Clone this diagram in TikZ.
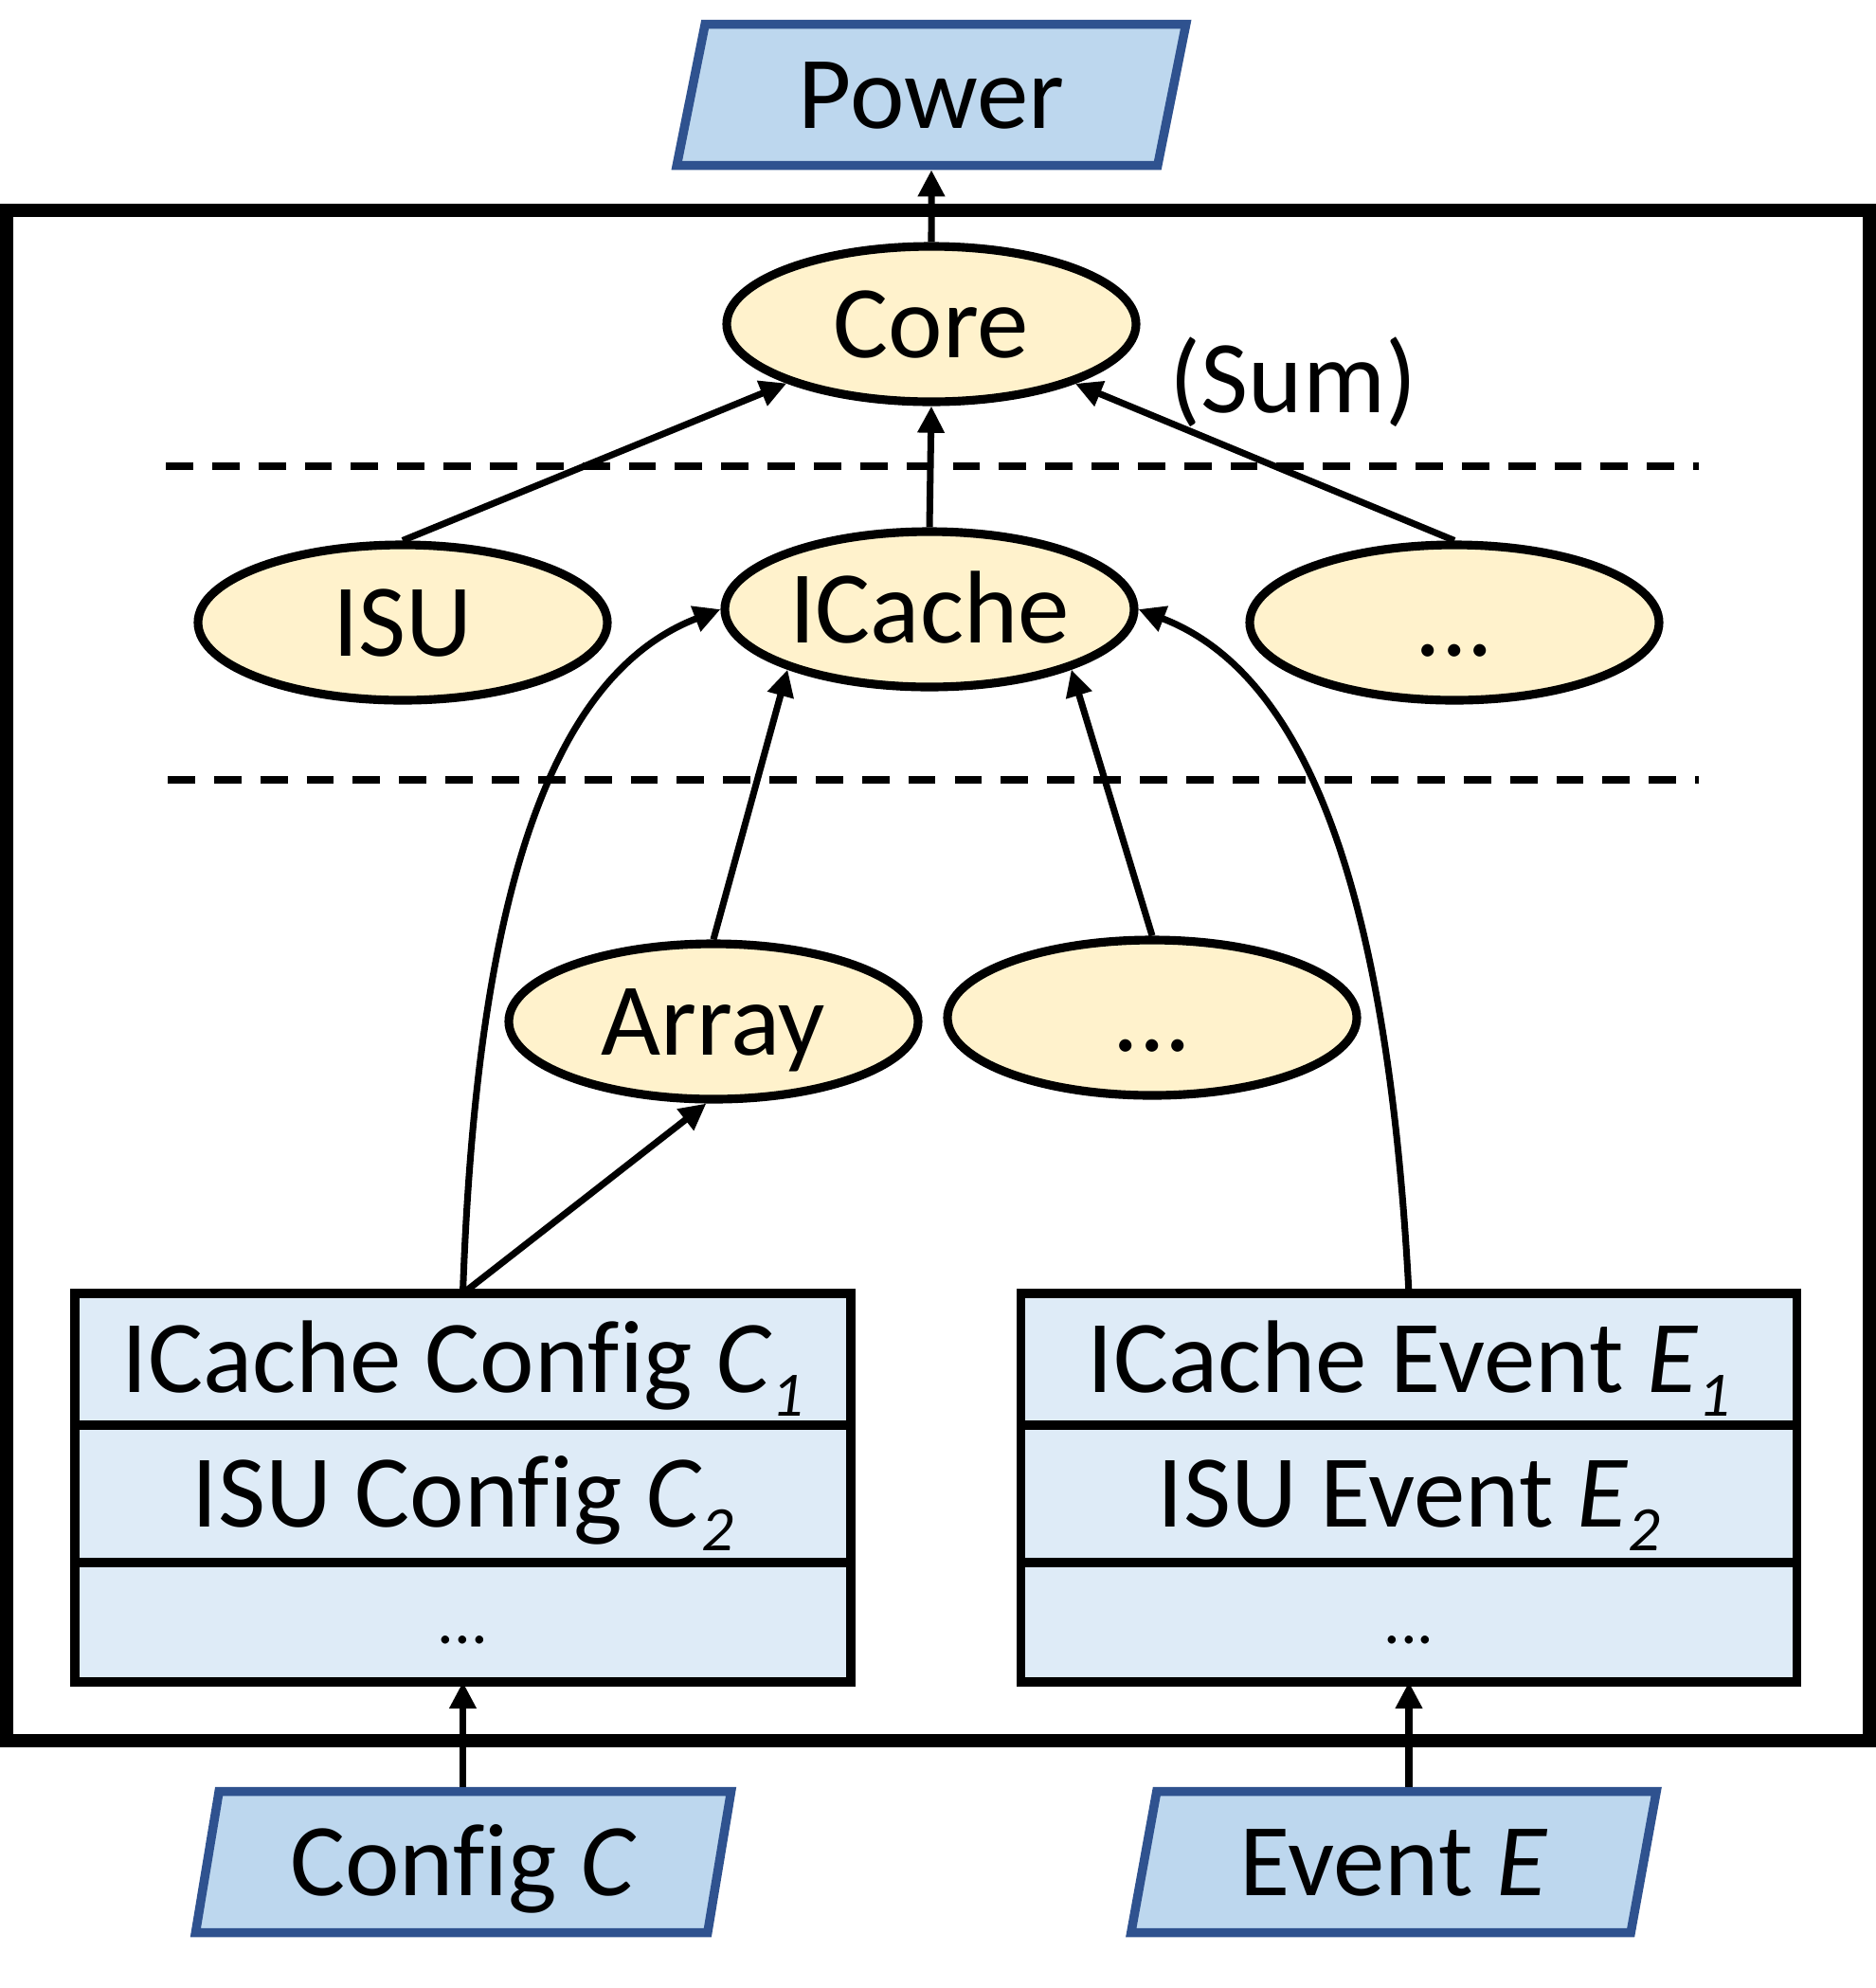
\documentclass[tikz,border=0pt]{standalone}
\usepackage{fontspec}
\setmainfont{Carlito}[Ligatures=NoCommon]
\usepackage{tikz}
\usetikzlibrary{arrows.meta, shapes.geometric, positioning}
\definecolor{pfill}{HTML}{BDD7EE}
\definecolor{pbord}{HTML}{2F528F}
\definecolor{efill}{HTML}{FFF2CC}
\definecolor{tfill}{HTML}{DEEBF7}
\newcommand{\lowsub}[1]{\raisebox{-0.23em}{\fontsize{19pt}{19pt}\selectfont\itshape #1}}

\begin{document}
\begin{tikzpicture}[
  font=\fontsize{31pt}{37pt}\selectfont,
  mod/.style={ellipse, draw, line width=2.6pt, fill=efill, minimum width=4.32cm, minimum height=1.64cm, inner sep=0pt, text height=20pt, text depth=0pt},
  inout/.style={trapezium, trapezium left angle=76, trapezium right angle=104, trapezium stretches=true, draw=pbord, fill=pfill, line width=2.7pt, minimum height=1.49cm, inner sep=0pt, text height=20pt, text depth=0pt},
  row/.style={rectangle, draw, fill=tfill, line width=2.6pt, minimum width=8.19cm, inner sep=0pt, outer sep=0pt, text height=20pt, text depth=0pt},
  arr/.style={line width=2pt, -{Triangle[length=8pt,width=7.7pt]}},
  sepline/.style={line width=2.2pt, dash pattern=on 8.2pt off 5.7pt}
]
  \useasboundingbox (0,0) rectangle (19.8,-20.98);
  \draw[line width=4pt] (0.07,-2.22) rectangle (19.73,-18.37);
  \draw[sepline] (1.75,-4.92) -- (17.93,-4.92);
  \draw[sepline] (1.77,-8.23) -- (17.93,-8.23);

  \node[inout, minimum width=5.40cm] (power) at (9.83,-1.00) {Power};
  \node[inout, minimum width=5.66cm] (config) at (4.89,-19.65) {Config \textit{C}};
  \node[inout, minimum width=5.55cm] (event) at (14.71,-19.65) {Event \textit{E}};

  \node[mod] (core) at (9.83,-3.42) {Core};
  \node[text height=20pt, text depth=0pt] (sum) at (13.65,-4.0) {(Sum)};
  \node[mod] (isu) at (4.25,-6.57) {ISU};
  \node[mod] (icache) at (9.81,-6.43) {ICache};
  \node[mod] (dots1) at (15.35,-6.57) {...};
  \node[mod] (array) at (7.53,-10.78) {Array};
  \node[mod] (dots2) at (12.16,-10.74) {...};

  \node[row, minimum height=1.39cm] (cfg1) at (4.885,-14.345) {ICache Config \textit{C}\lowsub{1}};
  \node[row, minimum height=1.45cm, below=0pt of cfg1] (cfg2) {ISU Config \textit{C}\lowsub{2}};
  \node[row, minimum height=1.26cm, font=\fontsize{20pt}{24pt}\selectfont, text height=13pt, below=0pt of cfg2] (cfg3) {...};
  \node[row, minimum height=1.39cm] (ev1) at (14.87,-14.345) {ICache Event \textit{E}\lowsub{1}};
  \node[row, minimum height=1.45cm, below=0pt of ev1] (ev2) {ISU Event \textit{E}\lowsub{2}};
  \node[row, minimum height=1.26cm, font=\fontsize{20pt}{24pt}\selectfont, text height=13pt, below=0pt of ev2] (ev3) {...};

  \draw[arr] (core.north) -- (power.south);
  \draw[arr] (isu.north) -- (core);
  \draw[arr] (icache.north) -- (core.south);
  \draw[arr] (dots1.north) -- (core);
  \draw[arr] (array.north) -- (icache.203);
  \draw[arr] (dots2.north) -- (icache.337);
  \draw[arr] (cfg1.north) -- (array.265);
  \draw[arr] (cfg1.north) .. controls +(88:4) and +(201:2) .. (icache.west);
  \draw[arr] (ev1.north) .. controls +(93:4) and +(-21:2) .. (icache.east);
  \draw[arr] (config.north -| cfg3.south) -- (cfg3.south);
  \draw[arr] (event.north -| ev3.south) -- (ev3.south);
\end{tikzpicture}
\end{document}
